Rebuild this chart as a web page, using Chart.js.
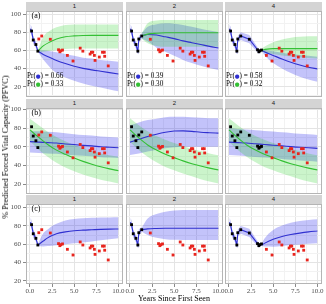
<!DOCTYPE html>
<html><head><meta charset="utf-8">
<script src="https://cdn.jsdelivr.net/npm/chart.js@4.4.1/dist/chart.umd.min.js"></script>
<style>
html,body{margin:0;padding:0;background:#fff;}
#wrap{position:relative;width:326px;height:304px;overflow:hidden;font-family:"Liberation Serif","Times New Roman",serif;}
canvas{position:absolute;left:0;top:0;}
.strip{position:absolute;background:#d4d4d4;color:#1a1a1a;font-family:"Liberation Sans",Arial,sans-serif;font-size:6px;text-align:center;}
.lab{position:absolute;font-size:8px;line-height:8px;color:#000;white-space:nowrap;}
.leg{position:absolute;font-size:7.2px;line-height:7.6px;white-space:nowrap;color:#000;}
.dot{font-family:"DejaVu Sans",sans-serif;font-size:5.5px;}
</style></head><body><div id="wrap"></div>
<script>
// ---------------- data ----------------
const facetLabels = ['1', '2', '4'];
const rowLabels = ['(a)', '(b)', '(c)'];
const xTicks = [0, 2.5, 5, 7.5, 10];
const xTickLabels = ['0.0', '2.5', '5.0', '7.5', '10.0'];
const xMinor = [1.25, 3.75, 6.25, 8.75];
const yTicks = [20, 40, 60, 80, 100];
const yTickLabels = ['20', '40', '60', '80', '100'];
const yMinor = [10, 30, 50, 70, 90];

// observed PFVC of the patient
const obsYears = [0.18,0.37,0.67,0.89,1.00,1.33,2.30,3.23,3.38,3.50,3.68,4.23,4.87,5.68,5.98,6.80,6.95,7.10,7.28,7.36,7.84,8.20,8.40,8.45,8.85];
const obsPFVC  = [81.4,71.5,66.5,59.2,72.6,75.9,72.3,60.7,58.5,59.6,60.4,54.5,48.3,62.5,59.2,56.0,58.0,58.0,54.5,49.0,52.7,58.0,58.0,53.5,42.9];
// number of observations already seen in each facet column
const nSeen = [4, 6, 11];

// legend probabilities (row a)
const prBlue  = [0.66, 0.39, 0.58];
const prGreen = [0.33, 0.30, 0.32];

// fitted trajectory over the observed period (rows a and c)
const e1Years = [0.05,0.18,0.37,0.67,0.89];
const e1Fit   = [84,81.4,71.5,66.5,59.2];
const e1Lo    = [79,77,67,63,58];
const e1Hi    = [89,86,76,70,60.5];
const e2Years = [0.05,0.18,0.37,0.67,0.89,1.0,1.33];
const e2Fit   = [84,81.4,71.5,66.5,59.2,72.6,75.9];
const e2Lo    = [79,77,67.5,62.5,56,69,73];
const e2Hi    = [89,86,75.5,70.5,63,76,79];
const e4Years = [0.05,0.18,0.37,0.67,0.89,1.0,1.33,2.3,3.23,3.38,3.5,3.68];
const e4Fit   = [84,81.4,71.5,66.5,59.2,72.6,75.9,72.3,60.7,58.5,59.6,60.4];
const e4Lo    = [79,77,67.5,62.5,56,69,71.5,68,58,56,57.5,59];
const e4Hi    = [89,86,75.5,70.5,63,76,80,77,63.5,61,61.5,61.8];

// row (a) predictions
const a1Years   = [0.89,1.5,2.3,3,4,5,6,7,8,9,10];
const a1Blue    = [59.2,55.5,52,49,45.5,42.5,40.2,38.5,37,35.5,34];
const a1BlueLo  = [58.5,50,41,35,30,26.5,23.5,21,19,17,15];
const a1BlueHi  = [60,60,59,58,56,54,52,51,49.5,48.5,47.5];
const a1Green   = [59.2,65,69.5,72.5,75,76,76.5,76.6,76.6,76.6,76.6];
const a1GreenLo = [58.5,58.5,59.5,60.5,61.5,62,62,62,62,62,62];
const a1GreenHi = [60,75,82,85.5,88,88.7,88.7,88.7,88.7,88.7,88.7];

const a2Years   = [1.33,2,3,4,5,6,7,8,9,10];
const a2Blue    = [76,77.5,77,75,73,70.5,68.5,66.5,64.5,62.7];
const a2BlueLo  = [73,70,63,58.5,54,49.5,46,43,40.5,38.3];
const a2BlueHi  = [79,86,89,90,89.5,88,86,84,82,80.3];
const a2Green   = [76,78,79,79.5,79.5,79.5,79.5,79.5,79.5,79.5];
const a2GreenLo = [73,68,65,64,64,64,64,64,64,64];
const a2GreenHi = [79,90,93,93.5,93.5,93.5,93.5,93.5,93.5,93.5];

const a4Years   = [3.68,4,5,6,7,8,9,10];
const a4Blue    = [60.4,58.5,54.5,50.5,47,44,41.5,39.5];
const a4BlueLo  = [59.5,55,46,40,35,31,28,25.5];
const a4BlueHi  = [61.5,60.5,59,57.5,56,55,54,53];
const a4Green   = [60.4,61,62,62,62,62,62,62];
const a4GreenLo = [59.5,57.5,56,54.5,53.5,52.5,51.5,51];
const a4GreenHi = [61.5,64,69,72,74,75,75.5,75.5];

// row (b) predictions
const b1Years   = [0,1,2,3,4,5,6,7,8,9,10];
const b1Blue    = [65.5,65,64.5,64,63,62.5,61.5,61,60,59.5,59];
const b1BlueLo  = [54,53.5,53,52.5,51.5,51,50.5,50,49,48.5,48];
const b1BlueHi  = [77,76.5,76,75.5,74.5,73.5,72.5,72,71,70.5,70];
const b1Green   = [78,70,62.5,56.5,52,48,44.5,41.5,38.8,36.5,34.5];
const b1GreenLo = [66,57,49.5,43,38,34,30.5,27.5,25,23,21];
const b1GreenHi = [90,83,76,70.5,66,62,58.5,55.5,53,51,49.5];

const b2Years   = [0,1,2,3,4,5,6,7,8,9,10];
const b2Blue    = [64.8,68,71,73.5,75.5,76.8,77,76.5,75.5,75,74.6];
const b2BlueLo  = [51.3,53,55,57,58.5,59.5,60,60,60,60,60];
const b2BlueHi  = [83,86,88.5,90,91.5,92,92,91.5,91,90.5,90.4];
const b2Green   = [78,69.5,62,56.5,52,48.5,45,42,39.5,37.3,35.3];
const b2GreenLo = [65.4,56.5,49.5,43.5,38.5,35,31.5,28.5,25.5,23,21];
const b2GreenHi = [90.4,83,76.5,71.5,67.5,64,61,58,55.5,53,51];

const b4Years   = [0,1,2,3,4,5,6,7,8,9,10];
const b4Blue    = [65,64.5,64,63.2,62.5,61.7,61,60.2,59.5,59,58.4];
const b4BlueLo  = [51.3,50.7,50,49.2,48.5,47.8,47,46.2,45.5,44.8,44];
const b4BlueHi  = [79.7,79,78.5,77.7,77,76.4,75.5,74.8,74,73.3,72.6];
const b4Green   = [78,69.5,62,56.5,52,48.5,45,42,39.5,37.3,35.3];
const b4GreenLo = [65.4,56.5,49.5,43.5,38.5,35,31.5,28.5,25.5,23,21];
const b4GreenHi = [90.4,83,76.5,71.5,67.5,64,61,58,55.5,53,51];

// row (c) predictions
const c1Years   = [0.89,1.5,2,2.5,3,4,5,6,7,8,9,10];
const c1Blue    = [59.2,63.5,67,69.5,71.5,73.5,74.8,75.4,75.8,76.2,76.5,76.7];
const c1BlueLo  = [58.5,57.5,58,58.5,59,60,61,62,63,64.3,65.5,66.5];
const c1BlueHi  = [60,72,76,80,82.5,86,87.6,88.4,88.8,89.1,89.3,89.4];

const c2Years   = [1.33,2,3,4,5,6,7,8,9,10];
const c2Blue    = [76,76.8,77.2,77.4,77.5,77.5,77.5,77.5,77.5,77.5];
const c2BlueLo  = [74,70,67,65.5,64.8,64.7,64.7,64.7,64.7,64.7];
const c2BlueHi  = [78,88,93,95.5,96.8,97.3,97.4,97.4,97.4,97.4];

const c4Years   = [3.68,4,5,6,7,8,9,10];
const c4Blue    = [59,61,65.5,68.5,70.6,72.2,73.5,74.5];
const c4BlueLo  = [58,57.5,57.4,58.2,59,59.8,60.5,61];
const c4BlueHi  = [60,66,75.6,80.5,83.5,85.3,86.5,87.2];

// ---------------- tables built from the arrays ----------------
const early = [
  {years:e1Years, fit:e1Fit, lo:e1Lo, hi:e1Hi},
  {years:e2Years, fit:e2Fit, lo:e2Lo, hi:e2Hi},
  {years:e4Years, fit:e4Fit, lo:e4Lo, hi:e4Hi}
];
const preds = [
  [ {years:a1Years, blue:a1Blue, blueLo:a1BlueLo, blueHi:a1BlueHi, green:a1Green, greenLo:a1GreenLo, greenHi:a1GreenHi},
    {years:a2Years, blue:a2Blue, blueLo:a2BlueLo, blueHi:a2BlueHi, green:a2Green, greenLo:a2GreenLo, greenHi:a2GreenHi},
    {years:a4Years, blue:a4Blue, blueLo:a4BlueLo, blueHi:a4BlueHi, green:a4Green, greenLo:a4GreenLo, greenHi:a4GreenHi} ],
  [ {years:b1Years, blue:b1Blue, blueLo:b1BlueLo, blueHi:b1BlueHi, green:b1Green, greenLo:b1GreenLo, greenHi:b1GreenHi},
    {years:b2Years, blue:b2Blue, blueLo:b2BlueLo, blueHi:b2BlueHi, green:b2Green, greenLo:b2GreenLo, greenHi:b2GreenHi},
    {years:b4Years, blue:b4Blue, blueLo:b4BlueLo, blueHi:b4BlueHi, green:b4Green, greenLo:b4GreenLo, greenHi:b4GreenHi} ],
  [ {years:c1Years, blue:c1Blue, blueLo:c1BlueLo, blueHi:c1BlueHi},
    {years:c2Years, blue:c2Blue, blueLo:c2BlueLo, blueHi:c2BlueHi},
    {years:c4Years, blue:c4Blue, blueLo:c4BlueLo, blueHi:c4BlueHi} ]
];

// ---------------- layout & style ----------------
const W = 326, H = 304;
const colsX = [[26,123],[126,223],[225,322]];
const rowsY = [[11,97],[108,194],[204,284]];
const stripH = 9;
const yRanges = [[8.6,103.5],[9.7,101.4],[16.7,103.9]];
const xRange = [-0.45, 10.52];
const BLUE = '#3030d0', GREEN = '#34c034';
const BLUE_FILL = 'rgba(25,25,235,0.26)', GREEN_FILL = 'rgba(20,205,20,0.22)';
const RED = '#e8251e';
const FONT = '"Liberation Serif","Times New Roman",serif';

function xy(xs, ys) { return xs.map((x, i) => ({x: x, y: ys[i]})); }
function band(xs, lo, hi, color, smooth) {
  const base = {borderWidth:0, borderColor:'rgba(0,0,0,0)', pointRadius:0, pointHoverRadius:0, order:3,
    cubicInterpolationMode: smooth ? 'monotone' : 'default', tension: 0};
  return [Object.assign({data: xy(xs, lo), fill:false}, base),
          Object.assign({data: xy(xs, hi), fill:'-1', backgroundColor: color}, base)];
}
function line(xs, ys, color, smooth) {
  return {data: xy(xs, ys), borderColor: color, borderWidth: 1.1, pointRadius: 0, pointHoverRadius:0, fill: false,
    order: 2, cubicInterpolationMode: smooth ? 'monotone' : 'default', tension: 0};
}
function pts(xs, ys, color) {
  return {data: xy(xs, ys), showLine: false, pointStyle: 'rect', pointRadius: 2, pointBorderWidth: 0,
    pointBackgroundColor: color, backgroundColor: color, borderColor: color, borderWidth: 0, fill: false, order: 1};
}

const panelBorder = {id:'panelBorder', afterDraw(chart) {
  const a = chart.chartArea, c = chart.ctx;
  c.save(); c.strokeStyle = '#b5b5b5'; c.lineWidth = 1;
  c.strokeRect(a.left + 0.5, a.top + 0.5, a.right - a.left - 1, a.bottom - a.top - 1);
  c.restore();
}};

const wrap = document.getElementById('wrap');
const xGrid = xTicks.concat(xMinor).sort((a, b) => a - b);
const yGrid = yTicks.concat(yMinor).sort((a, b) => a - b);

for (let r = 0; r < 3; r++) {
  for (let c = 0; c < 3; c++) {
    const ds = [];
    const p = preds[r][c];
    if (p.green) ds.push(...band(p.years, p.greenLo, p.greenHi, GREEN_FILL, true));
    ds.push(...band(p.years, p.blueLo, p.blueHi, BLUE_FILL, true));
    if (r !== 1) ds.push(...band(early[c].years, early[c].lo, early[c].hi, BLUE_FILL, false));
    if (p.green) ds.push(line(p.years, p.green, GREEN, true));
    ds.push(line(p.years, p.blue, BLUE, true));
    if (r !== 1) ds.push(line(early[c].years, early[c].fit, BLUE, false));
    ds.push(pts(obsYears.slice(nSeen[c]), obsPFVC.slice(nSeen[c]), RED));
    ds.push(pts(obsYears.slice(0, nSeen[c]), obsPFVC.slice(0, nSeen[c]), '#000'));

    const isLeft = c === 0, isBottom = r === 2;
    const yw = isLeft ? 24 : 0, xh = isBottom ? 11 : 0;
    const [pl, pr] = colsX[c], [pt, pb] = rowsY[r];

    const cv = document.createElement('canvas');
    cv.width = W; cv.height = H; cv.style.width = W + 'px'; cv.style.height = H + 'px';
    wrap.appendChild(cv);

    new Chart(cv, {
      type: 'line',
      data: {datasets: ds},
      plugins: [panelBorder],
      options: {
        responsive: false, animation: false, devicePixelRatio: 1, events: [],
        layout: {padding: {left: pl - yw, top: pt, right: W - pr, bottom: H - pb - xh}},
        plugins: {legend: {display: false}, tooltip: {enabled: false}, colors: {enabled: false},
                  filler: {drawTime: 'beforeDatasetsDraw'}},
        scales: {
          x: {
            type: 'linear', min: xRange[0], max: xRange[1],
            afterBuildTicks: s => { s.ticks = xGrid.map(v => ({value: v})); },
            afterFit: s => { s.height = xh; s.paddingLeft = 0; s.paddingRight = 0; },
            border: {display: false},
            grid: {
              color: ctx => xTicks.includes(ctx.tick.value) ? '#e4e4e4' : '#f2f2f2',
              lineWidth: 1, drawTicks: isBottom, tickLength: 3,
              tickColor: ctx => xTicks.includes(ctx.tick.value) ? '#8a8a8a' : 'rgba(0,0,0,0)'
            },
            ticks: {
              display: isBottom, autoSkip: false, maxRotation: 0, padding: 0, color: '#4d4d4d',
              font: {family: FONT, size: 7},
              callback: v => { const i = xTicks.indexOf(v); return i >= 0 ? xTickLabels[i] : ''; }
            }
          },
          y: {
            type: 'linear', min: yRanges[r][0], max: yRanges[r][1],
            afterBuildTicks: s => { s.ticks = yGrid.filter(v => v > yRanges[r][0] && v < yRanges[r][1]).map(v => ({value: v})); },
            afterFit: s => { s.width = yw; s.paddingTop = 0; s.paddingBottom = 0; },
            border: {display: false},
            grid: {
              color: ctx => yTicks.includes(ctx.tick.value) ? '#e4e4e4' : '#f2f2f2',
              lineWidth: 1, drawTicks: isLeft, tickLength: 3,
              tickColor: ctx => yTicks.includes(ctx.tick.value) ? '#8a8a8a' : 'rgba(0,0,0,0)'
            },
            ticks: {
              display: isLeft, autoSkip: false, padding: 2, color: '#4d4d4d',
              font: {family: FONT, size: 7},
              callback: v => { const i = yTicks.indexOf(v); return i >= 0 ? yTickLabels[i] : ''; }
            }
          }
        }
      }
    });

    // strip
    if (true) {
      const s = document.createElement('div');
      s.className = 'strip';
      s.style.left = pl + 'px'; s.style.width = (pr - pl) + 'px';
      s.style.top = (pt - stripH) + 'px'; s.style.height = stripH + 'px'; s.style.lineHeight = stripH + 'px';
      s.textContent = facetLabels[c];
      wrap.appendChild(s);
    }
    if (c === 0) {
      const l = document.createElement('div');
      l.className = 'lab';
      l.style.left = (pl + 5.5) + 'px'; l.style.top = (pt + 1) + 'px';
      l.textContent = rowLabels[r];
      wrap.appendChild(l);
    }
    if (r === 0) {
      const g = document.createElement('div');
      g.className = 'leg';
      g.style.left = (pl + 1) + 'px'; g.style.top = (pt + 62) + 'px';
      g.innerHTML = 'Pr(<span class="dot" style="color:' + BLUE + '">\u25CF</span>) = ' + prBlue[c].toFixed(2) +
                    '<br>Pr(<span class="dot" style="color:' + GREEN + '">\u25CF</span>) = ' + prGreen[c].toFixed(2);
      wrap.appendChild(g);
    }
  }
}

// axis titles
const yt = document.createElement('div');
yt.className = 'lab';
yt.style.fontSize = '8.3px';
yt.style.left = '5.5px'; yt.style.top = '147px';
yt.style.transform = 'translate(-50%,-50%) rotate(-90deg)';
yt.textContent = '% Predicted Forced Vital Capacity (PFVC)';
wrap.appendChild(yt);

const xt = document.createElement('div');
xt.className = 'lab';
xt.style.fontSize = '8px';
xt.style.left = '174px'; xt.style.top = '299px';
xt.style.transform = 'translate(-50%,-50%)';
xt.textContent = 'Years Since First Seen';
wrap.appendChild(xt);
</script>
</body></html>
